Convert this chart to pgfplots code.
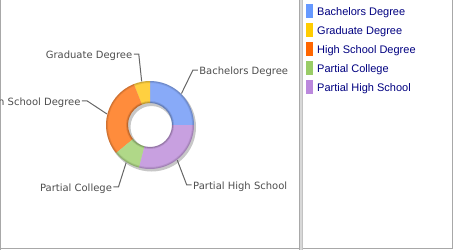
\documentclass[border=0pt]{standalone}
\usepackage{pgfplots}
\usepackage{pgfplotstable}
\pgfplotsset{compat=1.18}
\usepackage{fontspec}
\setmainfont{DejaVu Sans}
\newfontfamily\legfont{Liberation Sans}

\definecolor{slice0}{HTML}{88AAF8}
\definecolor{slice1}{HTML}{FFD040}
\definecolor{slice2}{HTML}{FF8C3C}
\definecolor{slice3}{HTML}{B0D888}
\definecolor{slice4}{HTML}{C8A0E0}
\definecolor{leg0}{HTML}{6699FF}
\definecolor{leg1}{HTML}{FFCC00}
\definecolor{leg2}{HTML}{FF6600}
\definecolor{leg3}{HTML}{99CC66}
\definecolor{leg4}{HTML}{BB88DD}
\definecolor{bordergray}{HTML}{A8A8A8}
\definecolor{sepgray}{HTML}{D8D8D8}
\definecolor{labgray}{HTML}{4D4D4D}
\definecolor{linegray}{HTML}{666666}
\definecolor{navy}{HTML}{000080}

% value = share in percent; la, lr = angle and radius of the label elbow (layout)
\pgfplotstableread[col sep=comma]{
name,value,la,lr
Bachelors Degree,25,52,69.6
Graduate Degree,6,99,71.8
High School Degree,30,159,67.5
Partial College,10,243,69.5
Partial High School,29,301.5,70.3
}\data

\begin{document}
\begin{tikzpicture}
\useasboundingbox (0,0) rectangle (454pt,250pt);
\begin{axis}[
  at={(0,0)}, anchor=south west,
  scale only axis, width=454pt, height=250pt,
  xmin=0, xmax=454, ymin=0, ymax=250,
  hide axis, clip=false,
]
\pgfplotsextra{%
  % panel borders
  \fill[bordergray] (axis cs:0,0) rectangle (axis cs:1,250);
  \fill[bordergray] (axis cs:0,1) rectangle (axis cs:299,2);
  \fill[sepgray] (axis cs:299,0) rectangle (axis cs:303,250);
  \fill[bordergray] (axis cs:299,0) rectangle (axis cs:300,250);
  \fill[bordergray!70] (axis cs:302,0) rectangle (axis cs:303,250);
  \fill[bordergray] (axis cs:303,1) rectangle (axis cs:453,2);
  \fill[bordergray] (axis cs:452,1) rectangle (axis cs:453,250);
  % shadow
  \fill[black,opacity=0.22,even odd rule] (axis cs:151.5,123) circle[radius=44.5pt] circle[radius=21pt];
  \gdef\startang{0}%
  \foreach \i in {0,...,4}{%
    \pgfplotstablegetelem{\i}{value}\of\data \let\val\pgfplotsretval
    \pgfplotstablegetelem{\i}{name}\of\data \let\nm\pgfplotsretval
    \pgfplotstablegetelem{\i}{la}\of\data \let\la\pgfplotsretval
    \pgfplotstablegetelem{\i}{lr}\of\data \let\lr\pgfplotsretval
    \pgfmathsetmacro\endang{\startang+3.6*\val}%
    \pgfmathsetmacro\midang{(\startang+\endang)/2}%
    \fill[slice\i] (axis cs:150,125) ++(\startang:44pt)
       arc[start angle=\startang, end angle=\endang, radius=44pt]
       -- ++(\endang:-22pt)
       arc[start angle=\endang, end angle=\startang, radius=22pt] -- cycle;
    \path (axis cs:150,125) ++(\la:\lr pt) coordinate (elb);
    \pgfmathparse{cos(\la)>0 ? 1 : -1}\let\dir\pgfmathresult
    \ifdim\dir pt>0pt
      \draw[linegray, line width=1pt] (axis cs:150,125) ++(\midang:44.5pt) -- (elb) -- ++(5pt,0)
        node[anchor=base west, inner sep=0pt, xshift=1pt, yshift=-4.5pt, text=labgray, font=\fontsize{10}{12}\selectfont] {\nm};
    \else
      \draw[linegray, line width=1pt] (axis cs:150,125) ++(\midang:44.5pt) -- (elb) -- ++(-5pt,0)
        node[anchor=base east, inner sep=0pt, xshift=-1pt, yshift=-4.5pt, text=labgray, font=\fontsize{10}{12}\selectfont] {\nm};
    \fi
    % legend entry
    \pgfmathsetmacro\ly{232-19*\i}%
    \fill[leg\i] (axis cs:306,\ly) rectangle (axis cs:313,\ly+14);
    \node[anchor=base west, inner sep=0pt, text=navy, font=\legfont\fontsize{11}{13}\selectfont]
      at (axis cs:317,\ly+2.3) {\nm};
    \xdef\startang{\endang}%
  }
  % bevel effect
  \draw[black,opacity=0.18,line width=1pt] (axis cs:150,125) circle[radius=43.5pt];
  \draw[black,opacity=0.08,line width=1pt] (axis cs:150,125) circle[radius=42.5pt];
  \draw[black,opacity=0.25,line width=1pt] (axis cs:150,125) circle[radius=22.5pt];
  \draw[black,opacity=0.10,line width=1pt] (axis cs:150,125) circle[radius=23.5pt];
}
\end{axis}
\end{tikzpicture}
\end{document}
